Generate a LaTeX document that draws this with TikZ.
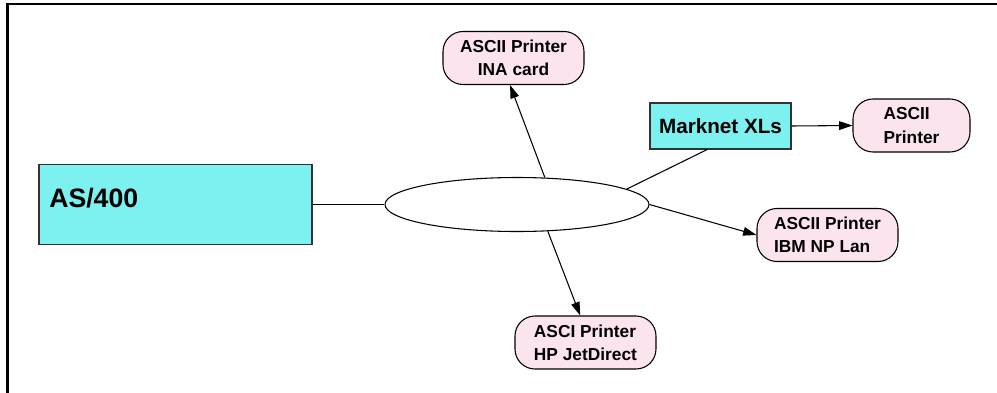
\documentclass[tikz,border=0pt]{standalone}
\usepackage{fontspec}
\setmainfont{Liberation Sans}
\usetikzlibrary{arrows.meta,shapes.geometric}
\definecolor{boxcyan}{RGB}{125,240,240}
\definecolor{boxpink}{RGB}{252,228,238}
\tikzset{
  sysbox/.style={draw=black!80,line width=0.8pt,fill=boxcyan,inner sep=0pt},
  prn/.style={draw=black,line width=0.8pt,fill=boxpink,rounded corners=15pt,
    minimum width=141*0.75pt,minimum height=53*0.75pt,inner sep=0pt,
    font=\bfseries\fontsize{13}{17.5}\selectfont},
  conn/.style={line width=0.8pt},
  arr/.style={conn,-{Triangle[length=10pt,width=6.5pt]}}
}
\begin{document}
\begin{tikzpicture}[x=0.75pt,y=-0.75pt]
\useasboundingbox (0,0) rectangle (997,393);
% frame
\draw[line width=1.6pt] (7.5,393) -- (7.5,4) -- (997,4);
% nodes
\node[sysbox,minimum width=273*0.75pt,minimum height=80*0.75pt] (as) at (175.5,204.5) {};
\node[anchor=base west,inner sep=0pt,font=\bfseries\fontsize{20}{24}\selectfont] (astext) at (49,207) {AS/400};
\node[ellipse,draw,line width=0.8pt,minimum width=264*0.75pt,minimum height=54*0.75pt,inner sep=0pt] (lan) at (517,204.5) {};
\node[sysbox,minimum width=141*0.75pt,minimum height=46*0.75pt,font=\bfseries\fontsize{15.5}{18}\selectfont] (mark) at (720.5,126) {Marknet XLs};
\node[prn,align=center] (ina) at (513.5,58) {ASCII Printer\\INA card};
\node[prn,align=left,minimum width=117*0.75pt] (ascii) at (911.5,125.5) {ASCII\\Printer};
\node[prn,align=left] (ibm) at (827.5,235) {ASCII Printer\\IBM NP Lan};
\node[prn,align=left] (hp) at (585.5,342.5) {ASCI Printer\\HP JetDirect};
% connectors
\draw[conn] (as.east) -- (lan.west);
\draw[arr] (lan.44) -- ([xshift=-2.6pt]ina.south);
\draw[conn] ([xshift=-10pt]mark.south) -- (lan.8);
\draw[arr] (mark.east) -- (ascii.west);
\draw[arr] (lan.east) -- (ibm.west);
\draw[arr] (lan.-41) -- ([xshift=-4pt]hp.north);
\end{tikzpicture}
\end{document}
